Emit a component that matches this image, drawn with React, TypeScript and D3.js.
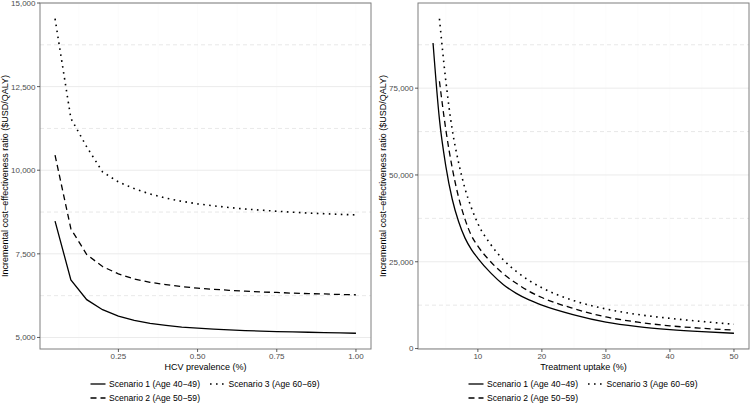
import React from "react";
import * as d3 from "d3";

// ---- Data ----
const prevalenceX = [0.05, 0.10, 0.15, 0.20, 0.25, 0.30, 0.35, 0.40, 0.45, 0.50, 0.55, 0.60, 0.65, 0.70, 0.75, 0.80, 0.85, 0.90, 0.95, 1.00];
const prevS1 = [8480, 6720, 6130, 5830, 5640, 5510, 5420, 5360, 5310, 5280, 5250, 5225, 5205, 5190, 5175, 5165, 5155, 5145, 5135, 5125];
const prevS2 = [10450, 8250, 7480, 7120, 6900, 6750, 6650, 6580, 6520, 6475, 6440, 6410, 6385, 6360, 6345, 6325, 6310, 6300, 6285, 6275];
const prevS3 = [14530, 11550, 10700, 9950, 9650, 9450, 9290, 9165, 9070, 8995, 8935, 8885, 8840, 8805, 8775, 8745, 8720, 8700, 8680, 8665];

const uptakeX1 = [3, 4, 5, 6, 7, 8, 9, 10, 12, 14, 16, 18, 20, 25, 30, 35, 40, 45, 50];
const uptakeS1 = [88000, 66000, 52500, 43000, 36500, 31800, 28500, 26000, 21800, 18400, 15900, 14000, 12500, 9700, 7600, 6300, 5450, 4850, 4400];
const uptakeX23 = [4, 5, 6, 7, 8, 9, 10, 12, 14, 16, 18, 20, 25, 30, 35, 40, 45, 50];
const uptakeS2 = [77000, 63000, 52000, 43500, 37200, 32500, 29500, 25000, 21500, 18800, 16500, 14700, 11500, 9100, 7600, 6550, 5850, 5300];
const uptakeS3 = [95000, 77000, 63000, 53500, 46000, 40500, 36000, 30000, 25500, 22200, 19600, 17500, 13800, 11400, 9800, 8700, 7800, 7000];

const seriesNames = ["Scenario 1 (Age 40\u221249)", "Scenario 2 (Age 50\u221259)", "Scenario 3 (Age 60\u221269)"];
const leftYTicks = [5000, 7500, 10000, 12500, 15000];
const leftYMinor = [6250, 8750, 11250, 13750];
const leftXTicks = [0.25, 0.5, 0.75, 1.0];
const leftXMinor = [0.125, 0.375, 0.625, 0.875];
const rightYTicks = [0, 25000, 50000, 75000];
const rightYMinor = [12500, 37500, 62500, 87500];
const rightXTicks = [10, 20, 30, 40, 50];
const rightXMinor = [5, 15, 25, 35, 45];

const yTitle = "Incremental cost\u2212effectiveness ratio ($USD/QALY)";

const dashes = [null, "6,4", "1.6,4.4"];
const FONT = "'Liberation Sans', Arial, sans-serif";

type Series = { x: number[]; y: number[] };

function expand(min: number, max: number): [number, number] {
  const r = max - min;
  return [min - r * 0.05, max + r * 0.05];
}

function Panel(props: {
  left: number; right: number; top: number; bottom: number;
  series: Series[]; xTicks: number[]; xMinor: number[]; yTicks: number[]; yMinor: number[];
  xFmt: (v: number) => string; xTitle: string; curve: d3.CurveFactory;
}) {
  const { left, right, top, bottom, series, xTicks, xMinor, yTicks, yMinor, xFmt, xTitle, curve } = props;
  const allX = series.flatMap((s) => s.x);
  const allY = series.flatMap((s) => s.y);
  const xs = d3.scaleLinear().domain(expand(d3.min(allX)!, d3.max(allX)!)).range([left, right]);
  const ys = d3.scaleLinear().domain(expand(d3.min(allY)!, d3.max(allY)!)).range([bottom, top]);
  const fmtY = d3.format(",");
  const line = d3.line<[number, number]>().x((d) => xs(d[0])).y((d) => ys(d[1])).curve(curve);
  const cx = (left + right) / 2;
  const cy = (top + bottom) / 2;
  const legendRows = [
    { i: 0, kx: cx - 115, ky: 384 },
    { i: 1, kx: cx - 115, ky: 398 },
    { i: 2, kx: cx + 4.5, ky: 384 },
  ];
  return (
    <g>
      {xMinor.concat(xTicks).map((t, k) => (
        <line key={"vx" + k} x1={xs(t)} x2={xs(t)} y1={top} y2={bottom} stroke="#fbfbfb" strokeWidth={0.8} />
      ))}
      {yMinor.filter((t) => ys(t) > top && ys(t) < bottom).map((t, k) => (
        <line key={"my" + k} x1={left} x2={right} y1={ys(t)} y2={ys(t)} stroke="#dedede" strokeWidth={0.7} strokeDasharray="4,3" />
      ))}
      {yTicks.map((t, k) => (
        <line key={"gy" + k} x1={left} x2={right} y1={ys(t)} y2={ys(t)} stroke="#ebebeb" strokeWidth={1} />
      ))}
      {series.map((s, k) => (
        <path
          key={"s" + k}
          d={line(s.x.map((x, j) => [x, s.y[j]] as [number, number])) || ""}
          fill="none"
          stroke="#000"
          strokeWidth={k === 2 ? 1.6 : 1.3}
          strokeDasharray={dashes[k] || undefined}
        />
      ))}
      <rect x={left} y={top} width={right - left} height={bottom - top} fill="none" stroke="#7f7f7f" strokeWidth={1} />
      {yTicks.map((t, k) => (
        <g key={"yt" + k}>
          <line x1={left - 3} x2={left} y1={ys(t)} y2={ys(t)} stroke="#333" strokeWidth={0.8} />
          <text x={left - 4.5} y={ys(t) + 2.9} textAnchor="end" fontSize={8} fill="#4d4d4d" fontFamily={FONT}>{fmtY(t)}</text>
        </g>
      ))}
      {xTicks.map((t, k) => (
        <g key={"xt" + k}>
          <line x1={xs(t)} x2={xs(t)} y1={bottom} y2={bottom + 3} stroke="#333" strokeWidth={0.8} />
          <text x={xs(t)} y={bottom + 10} textAnchor="middle" fontSize={8} fill="#4d4d4d" fontFamily={FONT}>{xFmt(t)}</text>
        </g>
      ))}
      <text x={cx} y={bottom + 20.5} textAnchor="middle" fontSize={9} fill="#000" fontFamily={FONT}>{xTitle}</text>
      <text transform={`translate(${left - 32},${cy}) rotate(-90)`} textAnchor="middle" fontSize={9} fill="#000" fontFamily={FONT}>{yTitle}</text>
      {legendRows.map((r) => (
        <g key={"lg" + r.i}>
          <line x1={r.kx} x2={r.kx + 15} y1={r.ky} y2={r.ky} stroke="#000" strokeWidth={r.i === 2 ? 1.6 : 1.3} strokeDasharray={dashes[r.i] || undefined} />
          <text x={r.kx + 18.5} y={r.ky + 3} fontSize={8.6} fill="#000" fontFamily={FONT}>{seriesNames[r.i]}</text>
        </g>
      ))}
    </g>
  );
}

export default function App() {
  const leftSeries: Series[] = [
    { x: prevalenceX, y: prevS1 },
    { x: prevalenceX, y: prevS2 },
    { x: prevalenceX, y: prevS3 },
  ];
  const rightSeries: Series[] = [
    { x: uptakeX1, y: uptakeS1 },
    { x: uptakeX23, y: uptakeS2 },
    { x: uptakeX23, y: uptakeS3 },
  ];
  return (
    <svg width={750} height={403} style={{ position: "absolute", left: 0, top: 0, background: "#fff" }}>
      <rect width={750} height={403} fill="#fff" />
      <Panel left={40} right={371} top={3} bottom={349} series={leftSeries}
        xTicks={leftXTicks} xMinor={leftXMinor} yTicks={leftYTicks} yMinor={leftYMinor}
        xFmt={d3.format(".2f")} xTitle="HCV prevalence (%)" curve={d3.curveLinear} />
      <Panel left={418} right={749} top={3} bottom={349} series={rightSeries}
        xTicks={rightXTicks} xMinor={rightXMinor} yTicks={rightYTicks} yMinor={rightYMinor}
        xFmt={d3.format("d")} xTitle="Treatment uptake (%)" curve={d3.curveMonotoneX} />
    </svg>
  );
}
